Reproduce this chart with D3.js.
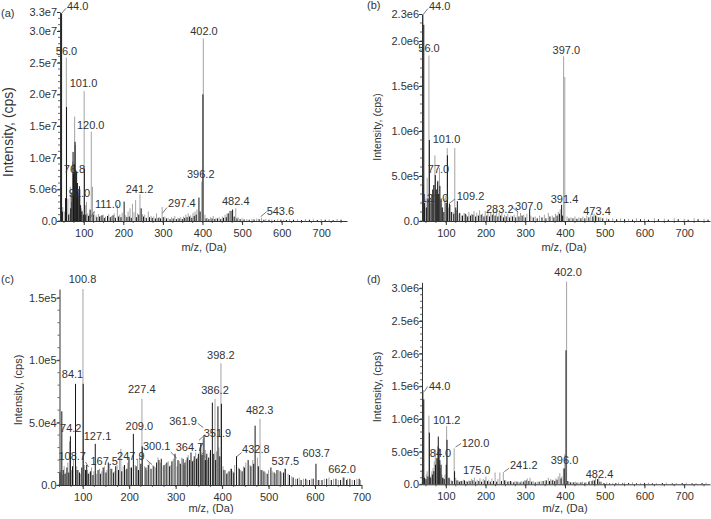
<!DOCTYPE html>
<html><head><meta charset="utf-8">
<script src="https://cdn.jsdelivr.net/npm/d3@7"></script>
<style>
body{margin:0;background:#fff}
text{font-family:"Liberation Sans",Arial,sans-serif;fill:#333}
</style>
</head><body>
<svg id="chart" width="711" height="519"></svg>
<script>
// ---------------- DATA ----------------
const xTicks = [100, 200, 300, 400, 500, 600, 700];
const aYTicks = [0, 5e6, 1e7, 1.5e7, 2e7, 2.5e7, 3e7, 3.3e7];
const bYTicks = [0, 5e5, 1e6, 1.5e6, 2e6, 2.3e6];
const cYTicks = [0, 5e4, 1e5, 1.5e5];
const dYTicks = [0, 5e5, 1e6, 1.5e6, 2e6, 2.5e6, 3e6];

// panel (a) spectra [m/z, intensity]
const aGray = [[43,5.3e6],[47,2.2e6],[51,1.5e6],[56,2.58e7],[60,3.5e6],[63,1.2e6],[66,5.4e6],[69,3.0e6],[72,9.4e6],[75,5.5e6],[77,1.65e7],[79,1.2e7],[81,6.0e6],[85,4.5e6],[88,3.2e6],[91,5.0e6],[94,2.0e6],[97,1.6e6],[101,2.05e7],[104,2.5e6],[107,3.0e6],[110,1.2e6],[114,1.0e6],[119,1.41e7],[122,5.4e6],[126,1.5e6],[131,9e5],[137,1.1e6],[143,8e5],[149,1.0e6],[155,7e5],[163,1.1e6],[170,8e5],[177,1.2e6],[185,2.5e6],[191,1.0e6],[197,1.3e6],[206,9e5],[212,1.5e6],[217,2.0e6],[223,2.7e6],[227,1.4e6],[231,3.3e6],[236,1.2e6],[242,4.2e6],[248,1.1e6],[254,1.0e6],[263,1.5e6],[270,8e5],[277,7e5],[284,1.2e6],[291,6e5],[298,2.2e6],[305,7e5],[313,5e5],[322,6e5],[330,8e5],[338,5e5],[345,6e5],[352,7e5],[358,1.0e6],[364,1.2e6],[370,9e5],[376,1.3e6],[381,1.5e6],[386,1.8e6],[398,6.2e6],[402,2.88e7],[406,1.0e6],[412,5e5],[420,6e5],[427,8e5],[434,5e5],[442,6e5],[450,7e5],[457,1.0e6],[462,1.2e6],[468,1.6e6],[484,2.0e6],[490,6e5],[500,4e5],[512,3e5],[525,3e5],[537,4e5],[549,5e5],[560,3e5],[575,2.5e5],[590,3e5],[605,2.5e5],[620,3e5],[640,2.5e5],[660,3e5],[680,2.5e5],[700,3e5],[720,2.5e5],[740,3e5]];
const aBlack = [[44,3.28e7],[46,1.5e6],[54,3.6e6],[56.5,1.8e7],[62,1.0e6],[67,2.0e6],[70,4.5e6],[73,1.09e7],[74,7.5e6],[76,9.0e6],[78,1.25e7],[80,8.0e6],[82,7.8e6],[84,6.0e6],[86,4.0e6],[89,5.5e6],[92,2.5e6],[95,1.5e6],[99,1.0e6],[101.5,8.3e6],[105,1.0e6],[112,8e5],[116,1.8e6],[124,1.0e6],[133,6e5],[140,7e5],[146,9e5],[152,5e5],[160,8e5],[167,6e5],[174,9e5],[180,5e5],[188,7e5],[194,6e5],[202,3.05e6],[209,6e5],[215,7e5],[220,5e5],[233,6e5],[239,1.0e6],[245,2.0e6],[251,7e5],[258,5e5],[266,6e5],[273,5e5],[281,4e5],[288,5e5],[294,4e5],[301,6e5],[309,4e5],[318,3e5],[326,4e5],[334,3e5],[341,4e5],[349,3e5],[355,5e5],[361,6e5],[367,7e5],[373,5e5],[379,8e5],[384,1.0e6],[391,3.7e6],[394,1.5e6],[401,2.0e7],[409,4e5],[416,3e5],[424,4e5],[431,3e5],[438,4e5],[446,3e5],[453,5e5],[460,6e5],[465,1.2e6],[472,1.6e6],[476,1.8e6],[480,7e5],[487,4e5],[495,3e5],[505,2.5e5],[518,2e5],[530,2.5e5],[543,3e5],[555,2e5],[568,2e5],[582,1.5e5],[598,2e5],[612,1.5e5],[630,2e5],[650,1.5e5],[670,2e5],[690,1.5e5],[710,2e5],[730,1.5e5],[750,2e5]];

// panel (b)
const bGray = [[43.5,2.3e6],[47,1.5e5],[50,2.5e5],[53,4.8e5],[57.5,1.84e6],[61,2.0e5],[65,3.0e5],[69,4.0e5],[72.5,7.3e5],[76,3.0e5],[80,4.5e5],[84,5.9e5],[88,2.0e5],[92,1.5e5],[97,2.5e5],[100,2.8e5],[103.5,8.1e5],[107,1.5e5],[112,1.8e5],[118,1.0e5],[122.5,8.1e5],[127,1.2e5],[133,8e4],[140,6e4],[146,9e4],[152,7e4],[158,1.0e5],[165,8e4],[171,1.1e5],[178,9e4],[185,1.2e5],[192,8e4],[199,1.1e5],[206,1.3e5],[213,1.0e5],[220,1.2e5],[227,1.3e5],[234,9e4],[241,1.0e5],[248,7e4],[256,8e4],[264,6e4],[272,7e4],[280,1.1e5],[288,9e4],[296,7e4],[304,8e4],[314,6e4],[325,5e4],[336,6e4],[348,7e4],[358,9e4],[368,6e4],[376,8e4],[383,1.0e5],[388,1.3e5],[396.5,1.83e6],[399.5,1.6e6],[405,5e4],[415,4e4],[425,5e4],[435,4e4],[445,5e4],[455,6e4],[465,7e4],[473,8e4],[480,5e4],[490,4e4],[505,3e4],[520,3e4],[540,3e4],[560,2.5e4],[580,3e4],[600,2.5e4],[625,3e4],[650,2.5e4],[675,3e4],[700,2.5e4],[725,3e4],[750,2.5e4]];
const bBlack = [[42,4.0e5],[44.5,2.18e6],[46,2.0e5],[51,1.5e5],[55,2.5e5],[58.5,9.0e5],[63,2.5e5],[67,3.5e5],[70,4.0e5],[73.5,5.1e5],[77,3.5e5],[79.5,4.4e5],[82,3.0e5],[85,3.9e5],[88,2.5e5],[91,1.5e5],[95,1.0e5],[101,2.0e5],[104,7.3e5],[109,1.9e5],[114,1.0e5],[120,8e4],[125,1.5e5],[129,2.2e5],[135,9e4],[142,6e4],[149,8e4],[155,5e4],[162,6e4],[168,7e4],[175,5e4],[182,6e4],[189,7e4],[196,5e4],[203,6e4],[210,5e4],[217,7e4],[224,6e4],[231,5e4],[238,6e4],[245,4e4],[252,5e4],[260,4e4],[268,5e4],[276,4e4],[284,5e4],[292,6e4],[300,4e4],[311,1.3e5],[320,4e4],[330,3e4],[342,4e4],[352,3e4],[362,5e4],[372,4e4],[380,6e4],[386,8e4],[391.5,1.8e5],[394,6e4],[410,3e4],[420,3e4],[430,2.5e4],[440,3e4],[450,3e4],[460,4e4],[470,5e4],[477,6e4],[485,4e4],[495,3e4],[510,2e4],[530,2e4],[550,2e4],[570,1.5e4],[590,2e4],[610,1.5e4],[635,2e4],[660,1.5e4],[685,2e4],[710,1.5e4],[735,2e4],[760,1.5e4]];

// panel (c)
const cGray = [[53,1.2e4],[57,8e3],[60,1.5e4],[64,1.0e4],[68,1.8e4],[71.5,3.5e4],[76,1.2e4],[80,2.0e4],[87,1.5e4],[91,1.2e4],[95,9e3],[100.5,1.57e5],[104,1.6e4],[110,1.2e4],[114,1.0e4],[119,1.4e4],[124,1.1e4],[130,9e3],[136,1.3e4],[141,1.1e4],[147,1.5e4],[152,1.2e4],[158,1.7e4],[163,1.3e4],[169,1.1e4],[174,1.6e4],[179,2.2e4],[182,2.9e4],[187,1.5e4],[193,1.2e4],[197,1.8e4],[203,1.4e4],[213,1.6e4],[218,2.0e4],[222,2.4e4],[227.4,6.9e4],[233,1.5e4],[238,1.2e4],[243,1.8e4],[251,1.6e4],[257,1.4e4],[262,2.2e4],[267,1.8e4],[273,1.5e4],[278,1.7e4],[284,1.9e4],[290,1.6e4],[295,2.1e4],[303,1.5e4],[308,1.9e4],[313,2.2e4],[318,1.6e4],[322,2.0e4],[327,2.4e4],[338,2.0e4],[343,2.6e4],[347,2.2e4],[352,3.0e4],[356,2.5e4],[359,3.7e4],[364,2.8e4],[369,2.0e4],[374,2.6e4],[384.7,6.9e4],[388,2.7e4],[393,3.0e4],[397.5,9.75e4],[402,1.5e4],[407,1.2e4],[412,1.0e4],[418,1.3e4],[423,1.1e4],[427,1.6e4],[435,1.4e4],[440,1.2e4],[446,1.5e4],[451,1.8e4],[460,1.6e4],[466,2.0e4],[476,2.2e4],[481.6,5.3e4],[487,1.2e4],[493,1.0e4],[500,1.2e4],[508,1.1e4],[515,9e3],[521,1.2e4],[528,1.0e4],[535,1.3e4],[542,9e3],[550,7e3],[558,5e3],[566,6e3],[575,5e3],[583,4e3],[592,5e3],[610,4e3],[620,5e3],[630,6e3],[640,5e3],[650,4e3],[660,6e3],[670,5e3],[680,4e3],[690,5e3],[698,4e3]];
const cBlack = [[51,1.0e4],[55,5.9e4],[58,1.2e4],[62,9e3],[66,1.4e4],[70,1.0e4],[73.5,3.9e4],[78,1.5e4],[84.5,8.1e4],[88,1.2e4],[93,1.0e4],[98,1.4e4],[101,8.1e4],[106,1.2e4],[108.5,1.6e4],[112,9e3],[117,1.1e4],[122,8e3],[127,3.3e4],[133,1.2e4],[138,9e3],[144,1.4e4],[150,1.0e4],[155,1.8e4],[161,1.3e4],[166,1.0e4],[171,1.5e4],[177,1.2e4],[184,1.1e4],[190,1.6e4],[195,1.3e4],[199.5,2.2e4],[205,1.4e4],[209,4.1e4],[215,1.5e4],[220,1.2e4],[225,1.7e4],[228,3.1e4],[236,1.4e4],[241,1.6e4],[247,1.3e4],[253,1.5e4],[259,1.8e4],[264,2.0e4],[269,2.1e4],[275,1.6e4],[281,1.8e4],[287,1.5e4],[292,1.9e4],[298.6,2.5e4],[305,2.0e4],[310,1.7e4],[316,2.1e4],[320,1.8e4],[325,2.2e4],[330,2.0e4],[333,2.6e4],[336,1.9e4],[340,2.3e4],[345,2.1e4],[349,2.5e4],[354,3.3e4],[357,2.4e4],[361,4.0e4],[364,2.0e4],[367,2.5e4],[371,2.2e4],[375,2.8e4],[379,6.6e4],[382,2.5e4],[386,2.0e4],[391,6.3e4],[395,2.3e4],[398.5,6.5e4],[404,1.2e4],[410,9e3],[415,1.1e4],[420,1.3e4],[425,1.0e4],[431,2.3e4],[437,1.3e4],[443,1.1e4],[448,1.4e4],[456,2.0e4],[462,1.5e4],[468,1.7e4],[471,4.75e4],[478,1.5e4],[484,1.2e4],[490,1.1e4],[497,9e3],[505,1.4e4],[512,1.0e4],[518,1.2e4],[525,1.1e4],[532,1.0e4],[536,1.3e4],[545,8e3],[553,6e3],[562,5e3],[570,4e3],[580,5e3],[588,4e3],[596,5e3],[602,1.7e4],[607,4e3],[615,4e3],[625,5e3],[635,4e3],[645,5e3],[655,4e3],[662,6e3],[668,4e3],[675,5e3],[685,4e3],[695,5e3]];

// panel (d)
const dGray = [[43.5,1.44e6],[47,1.0e5],[51,1.5e5],[53,2.0e5],[57.5,1.05e6],[61,1.2e5],[65,2.0e5],[68,2.5e5],[71,3.5e5],[73.5,5.3e5],[76,4.0e5],[79,5.8e5],[83,3.0e5],[86,2.5e5],[90,1.5e5],[94,1.0e5],[98,1.5e5],[102,8.9e5],[106,1.0e5],[110,8e4],[114,6e4],[121,5.5e5],[125,1.0e5],[131,6e4],[137,5e4],[144,7e4],[151,5e4],[158,6e4],[165,8e4],[172,1.0e5],[179,7e4],[186,9e4],[194,8e4],[201,1.2e5],[208,7e4],[216,9e4],[224,1.8e5],[231,8e4],[236,1.8e5],[244.7,1.9e5],[251,6e4],[259,5e4],[266,4e4],[274,5e4],[282,4e4],[290,5e4],[298,6e4],[305,9e4],[312,1.0e5],[320,5e4],[330,4e4],[340,5e4],[350,6e4],[358,1.0e5],[364,8e4],[370,7e4],[377,9e4],[383,1.2e5],[387,1.7e5],[392,1.2e5],[396,2.45e5],[399.5,4.6e5],[404,3.1e6],[410,4e4],[418,3e4],[426,4e4],[435,3e4],[444,4e4],[453,3e4],[462,5e4],[470,7e4],[477,1.1e5],[485,1.1e5],[492,4e4],[505,3e4],[520,2.5e4],[535,3e4],[550,2.5e4],[570,3e4],[590,2e4],[610,2.5e4],[630,2e4],[655,2.5e4],[680,2e4],[705,2.5e4],[730,2e4],[755,2.5e4]];
const dBlack = [[41,2.2e5],[44.5,1.3e6],[46,1.0e5],[50,8e4],[55,1.2e5],[58.5,7.9e5],[62,1.0e5],[66,1.5e5],[70,2.0e5],[74,3.0e5],[78,4.0e5],[81,7.3e5],[83,5.5e5],[85,3.7e5],[88,3.0e5],[92,1.0e5],[96,8e4],[101,3.0e5],[103,6.8e5],[108,1.0e5],[116,5e4],[122,2.0e5],[128,6e4],[134,4e4],[140,5e4],[147,6e4],[154,4e4],[161,5e4],[168,6e4],[175,4e4],[183,5e4],[190,4e4],[198,6e4],[205,5e4],[212,4e4],[220,5e4],[228,4e4],[240,5e4],[248,6e4],[256,4e4],[263,5e4],[271,3e4],[279,4e4],[287,3e4],[295,4e4],[302,6e4],[309,5e4],[316,4e4],[325,3e4],[335,4e4],[345,5e4],[353,6e4],[361,5e4],[368,6e4],[374,5e4],[380,7e4],[390,9e4],[398,2.4e5],[402.5,2.05e6],[407,5e4],[414,3e4],[422,3e4],[430,2.5e4],[440,3e4],[450,2.5e4],[460,4e4],[468,5e4],[474,6e4],[482,8e4],[488,4e4],[498,2e4],[512,1.5e4],[528,2e4],[545,1.5e4],[560,2e4],[580,1.5e4],[600,2e4],[620,1.5e4],[645,2e4],[670,1.5e4],[695,2e4],[720,1.5e4],[745,2e4]];

// peak labels: [text, m/z, intensity, anchor]
const aLabels = [["44.0",57.7,3.33e7,"start"],["56.0",56.4,2.62e7,"middle"],["101.0",99.4,2.12e7,"middle"],["120.0",117.5,1.45e7,"middle"],["76.8",76.6,7.63e6,"middle"],["91.0",89.3,3.84e6,"middle"],["111.0",128.4,2.0e6,"start"],["241.2",240.8,4.47e6,"middle"],["297.4",313,2.2e6,"start"],["402.0",403.7,2.94e7,"middle"],["396.2",395.6,6.74e6,"middle"],["482.4",484,2.53e6,"middle"],["543.6",562,9.5e5,"start"]];
const bLabels = [["44.0",57.6,2.34e6,"start"],["56.0",57.6,1.88e6,"middle"],["101.0",101.7,8.63e5,"middle"],["77.0",81.5,5.3e5,"middle"],["121.0",72,2.14e5,"middle"],["109.2",127.4,2.33e5,"start"],["283.2",201.1,8.56e4,"start"],["307.0",309,1.22e5,"middle"],["397.0",403.3,1.86e6,"middle"],["391.4",398.8,1.97e5,"middle"],["473.4",480.6,6.7e4,"middle"]];
const cLabels = [["100.8",99.5,1.616e5,"middle"],["84.1",78,8.55e4,"middle"],["74.2",74.3,4.27e4,"middle"],["127.1",131.8,3.6e4,"middle"],["108.7",77.3,2.0e4,"middle"],["167.5",146.2,1.6e4,"middle"],["209.0",221.8,4.4e4,"middle"],["227.4",227,7.35e4,"middle"],["247.9",203.5,2.0e4,"middle"],["300.1",259.2,2.8e4,"middle"],["364.7",329.8,2.75e4,"middle"],["361.9",315.8,4.8e4,"middle"],["351.9",390,3.87e4,"middle"],["386.2",384.7,7.26e4,"middle"],["398.2",397.2,1.01e5,"middle"],["482.3",480.9,5.69e4,"middle"],["432.8",472.5,2.59e4,"middle"],["537.5",536,1.6e4,"middle"],["603.7",602.5,2.27e4,"middle"],["662.0",658,9.9e3,"middle"]];
const dLabels = [["44.0",57.6,1.443e6,"start"],["101.2",102.2,9.23e5,"middle"],["120.0",140,5.76e5,"start"],["84.0",86.6,4.22e5,"middle"],["175.0",177.7,1.53e5,"middle"],["241.2",261.5,2.34e5,"start"],["396.0",398.8,3.06e5,"middle"],["402.0",407.6,3.19e6,"middle"],["482.4",486.9,1.0e5,"middle"]];

// leader lines: [m/z1, int1, m/z2, int2]
const aLeaders = [[44.3,3.28e7,55.2,3.36e7],[115.8,4.7e5,127.1,1.5e6],[298.4,1.2e6,310.3,2.13e6],[547,6.8e5,562,1.47e6]];
const bLeaders = [[43.8,2.3e6,55.1,2.36e6],[108,1.94e5,123.1,2.44e5],[265.8,1.56e5,282.5,1.0e5]];
const cLeaders = [[106,1.84e4,112.4,1.44e4],[237.7,2.0e4,249.1,1.64e4],[289.3,2.64e4,302.3,2.16e4],[356,2.6e4,364.3,2.2e4],[347.5,4.94e4,359.5,4.6e4],[350.3,3.58e4,359.5,3.9e4],[431.4,2.27e4,442.2,2.6e4]];
const dLeaders = [[45.8,1.417e6,54.4,1.497e6],[124.3,5.7e5,138.2,6.24e5],[247.2,1.93e5,259,2.45e5]];

// ---------------- LAYOUT ----------------
const panels = [
  {tag:"(a)", tagPos:[1,17], gray:aGray, black:aBlack, labels:aLabels, leaders:aLeaders, yTicks:aYTicks, xDom:[40,765], yMax:3.3e7, yMinor:1e6, l:60, r:347, t:12, b:221, yTitle:[8,132,14], xTitle:[204,251]},
  {tag:"(b)", tagPos:[367,9], gray:bGray, black:bBlack, labels:bLabels, leaders:bLeaders, yTicks:bYTicks, xDom:[40,765], yMax:2.3e6, yMinor:1e5, l:422, r:710, t:14, b:221, yTitle:[377,127,10.5], xTitle:[564,251]},
  {tag:"(c)", tagPos:[1,283], gray:cGray, black:cBlack, labels:cLabels, leaders:cLeaders, yTicks:cYTicks, xDom:[50,700], yMax:1.57e5, yMinor:1e4, l:59.5, r:361.5, t:289, b:485, yTitle:[18,390,11], xTitle:[211,512]},
  {tag:"(d)", tagPos:[367,283], gray:dGray, black:dBlack, labels:dLabels, leaders:dLeaders, yTicks:dYTicks, xDom:[40,765], yMax:3.09e6, yMinor:1e5, l:422, r:710, t:282.3, b:484.3, yTitle:[377,387,11], xTitle:[565,512]}
];

const svg = d3.select("#chart");
const fmtY = v => v === 0 ? "0.0" : v.toExponential(1).replace("e+", "e");

panels.forEach(p => {
  const g = svg.append("g");
  const x = d3.scaleLinear().domain(p.xDom).range([p.l, p.r]);
  const y = d3.scaleLinear().domain([0, p.yMax]).range([p.b, p.t]);

  const drawSticks = (data, color) => {
    g.append("g").selectAll("line").data(data).join("line")
      .attr("x1", d => x(d[0])).attr("x2", d => x(d[0]))
      .attr("y1", y(0)).attr("y2", d => y(d[1]))
      .attr("stroke", color).attr("stroke-width", 1);
  };
  drawSticks(p.gray, "#a3a3a3");
  drawSticks(p.black, "#151515");

  const xMinor = d3.range(Math.ceil(p.xDom[0] / 25) * 25, p.xDom[1], 25);
  g.append("g").selectAll("line").data(xMinor).join("line")
    .attr("x1", d => x(d)).attr("x2", d => x(d))
    .attr("y1", y(0)).attr("y2", y(0) + 2)
    .attr("stroke", "#444").attr("stroke-width", 0.8);
  const yMinor = d3.range(0, p.yMax, p.yMinor);
  g.append("g").selectAll("line").data(yMinor).join("line")
    .attr("x1", x(p.xDom[0]) - 2).attr("x2", x(p.xDom[0]))
    .attr("y1", d => y(d)).attr("y2", d => y(d))
    .attr("stroke", "#444").attr("stroke-width", 0.8);

  const xAxis = d3.axisBottom(x).tickValues(xTicks).tickSize(4).tickSizeOuter(0).tickFormat(d3.format("d"));
  const gx = g.append("g").attr("transform", `translate(0,${p.b})`).call(xAxis);
  gx.select(".domain").attr("stroke", "#333");
  gx.selectAll(".tick line").attr("stroke", "#333");
  gx.selectAll("text").attr("font-size", 11).attr("fill", "#333").attr("y", 15.5).attr("dy", 0)
    .attr("font-family", '"Liberation Sans",Arial,sans-serif');

  const yAxis = d3.axisLeft(y).tickValues(p.yTicks).tickSize(3).tickSizeOuter(0).tickFormat(fmtY);
  const gy = g.append("g").attr("transform", `translate(${p.l},0)`).call(yAxis);
  gy.select(".domain").attr("stroke", "#333");
  gy.selectAll(".tick line").attr("stroke", "#333");
  gy.selectAll("text").attr("font-size", 11).attr("fill", "#333").attr("x", -3)
    .attr("font-family", '"Liberation Sans",Arial,sans-serif');

  g.append("g").selectAll("line").data(p.leaders).join("line")
    .attr("x1", d => x(d[0])).attr("y1", d => y(d[1]))
    .attr("x2", d => x(d[2])).attr("y2", d => y(d[3]))
    .attr("stroke", "#555").attr("stroke-width", 0.8);

  g.append("g").selectAll("text").data(p.labels).join("text")
    .attr("x", d => x(d[1])).attr("y", d => y(d[2]))
    .attr("text-anchor", d => d[3])
    .attr("font-size", 11)
    .text(d => d[0]);

  g.append("text").attr("transform", `translate(${p.yTitle[0]},${p.yTitle[1]}) rotate(-90)`)
    .attr("text-anchor", "middle").attr("dy", "0.35em").attr("font-size", p.yTitle[2])
    .text("Intensity, (cps)");
  g.append("text").attr("x", p.xTitle[0]).attr("y", p.xTitle[1])
    .attr("text-anchor", "middle").attr("font-size", 11).text("m/z, (Da)");
  g.append("text").attr("x", p.tagPos[0]).attr("y", p.tagPos[1])
    .attr("font-size", 11).text(p.tag);
});
</script>
</body></html>
